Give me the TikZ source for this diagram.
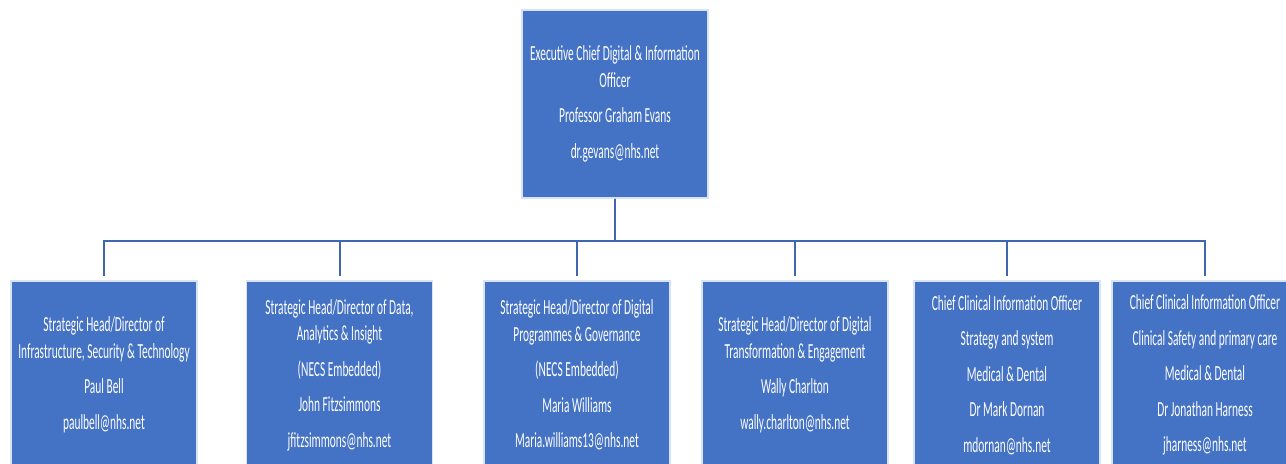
\documentclass[tikz,border=0pt]{standalone}
\usepackage{fontspec}
\setmainfont{Carlito}[FakeStretch=0.53]
\definecolor{boxblue}{HTML}{4472C4}
\definecolor{linkblue}{HTML}{4066B0}
\tikzset{
  orgbox/.style={rectangle, fill=boxblue, draw=white!80!boxblue, line width=0.6pt,
    minimum width=93pt, minimum height=94pt, inner sep=0pt, align=center,
    text=white, font=\fontsize{10.75}{13.25}\selectfont},
  link/.style={draw=linkblue, line width=1pt}
}
\begin{document}
\begin{tikzpicture}[x=0.5pt,y=-0.5pt]
\useasboundingbox (0,0) rectangle (1286,463);
\clip (0,0) rectangle (1286,463);
\node[orgbox] (top) at (615,104) {Executive Chief Digital \& Information\\Officer\\[4.5pt]Professor Graham Evans\\[4.5pt]dr.gevans@nhs.net};
\node[orgbox] (c1) at (104,375) {Strategic Head/Director of\\Infrastructure, Security \& Technology\\[4.5pt]Paul Bell\\[4.5pt]paulbell@nhs.net};
\node[orgbox] (c2) at (339.5,375) {Strategic Head/Director of Data,\\Analytics \& Insight\\[4.5pt](NECS Embedded)\\[4.5pt]John Fitzsimmons\\[4.5pt]jfitzsimmons@nhs.net};
\node[orgbox] (c3) at (577,375) {Strategic Head/Director of Digital\\Programmes \& Governance\\[4.5pt](NECS Embedded)\\[4.5pt]Maria Williams\\[4.5pt]Maria.williams13@nhs.net};
\node[orgbox] (c4) at (795,375) {Strategic Head/Director of Digital\\Transformation \& Engagement\\[4.5pt]Wally Charlton\\[4.5pt]wally.charlton@nhs.net};
\node[orgbox] (c5) at (1007,375) {Chief Clinical Information Officer\\[4.5pt]Strategy and system\\[4.5pt]Medical \& Dental\\[4.5pt]Dr Mark Dornan\\[4.5pt]mdornan@nhs.net};
\node[orgbox] (c6) at (1205,375) {Chief Clinical Information Officer\\[4.5pt]Clinical Safety and primary care\\[4.5pt]Medical \& Dental\\[4.5pt]Dr Jonathan Harness\\[4.5pt]jharness@nhs.net};
\foreach \c in {c1,c2,c3,c4,c5,c6}{
  \draw[link] (top.south) -- ++(0,42) -| ([yshift=2pt]\c.north);
}
\end{tikzpicture}
\end{document}
